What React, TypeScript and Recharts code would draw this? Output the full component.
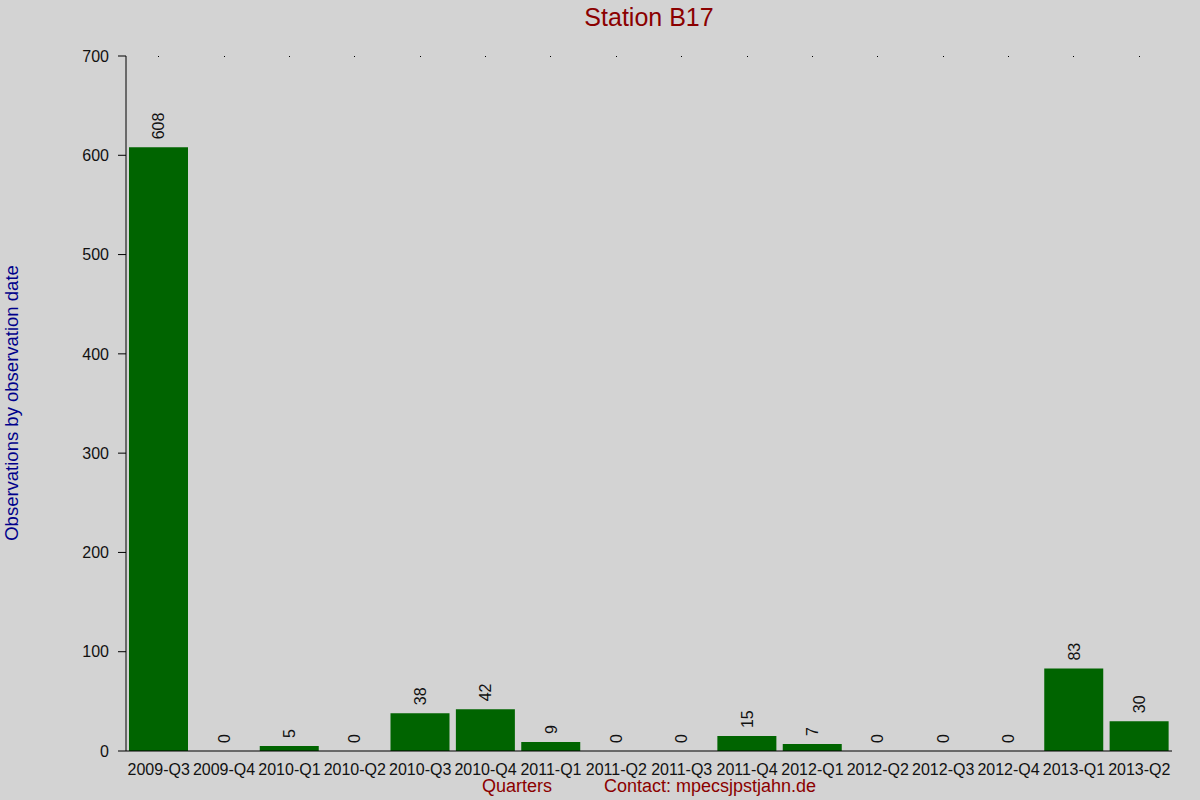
import React from 'react';
import { ComposedChart, Bar, Line, XAxis, YAxis, Label } from 'recharts';

const categories = ['2009-Q3','2009-Q4','2010-Q1','2010-Q2','2010-Q3','2010-Q4','2011-Q1','2011-Q2','2011-Q3','2011-Q4','2012-Q1','2012-Q2','2012-Q3','2012-Q4','2013-Q1','2013-Q2'];
const observations = [608, 0, 5, 0, 38, 42, 9, 0, 0, 15, 7, 0, 0, 0, 83, 30];
const yTicks = [0, 100, 200, 300, 400, 500, 600, 700];

const data = categories.map((q, i) => ({ q, v: observations[i] }));

const FONT = '"Liberation Sans", Arial, sans-serif';

const PointValue = (props: any) => {
  const { x, y, value } = props;
  const cx = Number(x);
  const cy = Number(y) - 8;
  return (
    <text
      x={cx}
      y={cy}
      dy="0.35em"
      transform={`rotate(-90 ${cx} ${cy})`}
      textAnchor="start"
      fontSize={16}
      fontFamily={FONT}
      fill="#111"
    >
      {value}
    </text>
  );
};

const XLabels = () => (
  <g>
    <text x={517} y={786} dy="0.35em" textAnchor="middle" fontSize={18} fontFamily={FONT} fill="#8b0000">Quarters</text>
    <text x={710} y={786} dy="0.35em" textAnchor="middle" fontSize={18} fontFamily={FONT} fill="#8b0000">Contact: mpecsjpstjahn.de</text>
  </g>
);

const YLabel = () => (
  <text x={12} y={403} dy="0.35em" transform="rotate(-90 12 403)" textAnchor="middle" fontSize={18.5} fontFamily={FONT} fill="#00008b">
    Observations by observation date
  </text>
);

const TopDot = (props: any) => (
  <rect x={Math.floor(Number(props.x))} y={56} width={1} height={1} fill="#000" shapeRendering="crispEdges" />
);

export default function App() {
  return (
    <div style={{ position: 'absolute', left: 0, top: 0, width: 1200, height: 800, background: '#d3d3d3' }}>
      <div style={{ position: 'absolute', left: 0, top: 3, width: 1298, textAlign: 'center', fontFamily: FONT, fontSize: 25, color: '#8b0000', lineHeight: '28px' }}>
        Station B17
      </div>
      <ComposedChart
        width={1200}
        height={800}
        data={data}
        margin={{ top: 55, right: 28, bottom: 0, left: 0 }}
        barCategoryGap={3}
        style={{ position: 'absolute', left: 0, top: 0 }}
      >
        <XAxis
          xAxisId="top"
          orientation="top"
          dataKey="q"
          height={1}
          axisLine={false}
          tickLine={false}
          interval={0}
          tick={<TopDot />}
        />
        <XAxis
          dataKey="q"
          height={49}
          axisLine={{ stroke: '#000' }}
          tickLine={false}
          tickMargin={7}
          interval={0}
          tick={{ fill: '#111', fontSize: 16, fontFamily: FONT }}
        >
          <Label content={<XLabels />} />
        </XAxis>
        <YAxis
          width={126}
          domain={[0, 700]}
          ticks={yTicks}
          interval={0}
          axisLine={{ stroke: '#000' }}
          tickLine={{ stroke: '#000' }}
          tickSize={8}
          tickMargin={9}
          tick={{ fill: '#111', fontSize: 16, fontFamily: FONT }}
        >
          <Label content={<YLabel />} />
        </YAxis>
        <Bar dataKey="v" fill="#006400" isAnimationActive={false} />
        <Line dataKey="v" stroke="none" dot={false} activeDot={false} isAnimationActive={false} label={<PointValue />} />
      </ComposedChart>
    </div>
  );
}
